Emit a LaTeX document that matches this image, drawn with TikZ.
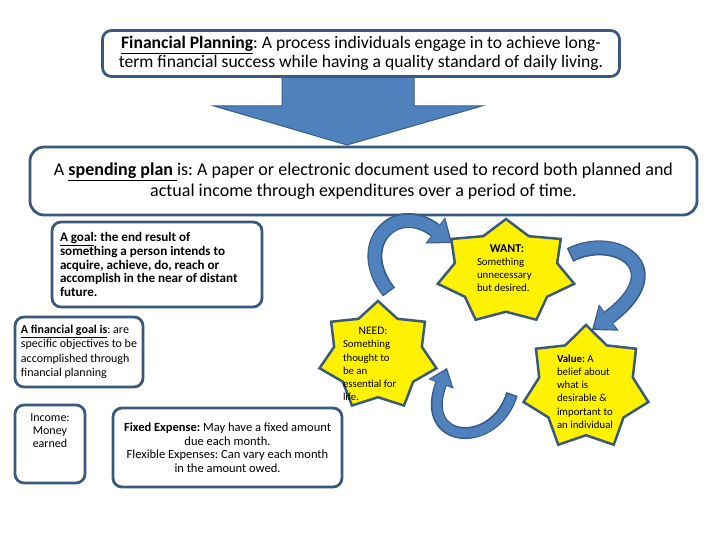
\documentclass[tikz,border=0pt]{standalone}
\usepackage{fontspec}
\setmainfont{Carlito}
\usetikzlibrary{arrows.meta}

\definecolor{rimblue}{RGB}{59,89,125}
\definecolor{arrowblue}{RGB}{79,129,189}
\definecolor{arrowrim}{RGB}{56,93,138}

\tikzset{
  defbox/.style={draw=rimblue, line width=2.8pt, rounded corners=9pt, fill=white, inner sep=0pt},
  starfill/.style={draw=rimblue, line width=2.5pt, fill=yellow, line join=miter},
  startext/.style={text width=60pt, align=flush left, inner sep=0pt, font=\fontsize{10.8}{13.2}\selectfont},
  bigarrow/.style={fill=arrowblue, draw=arrowrim, line width=1pt},
  curverim/.style={draw=arrowrim, line width=15pt, -{Triangle[length=21pt,width=33pt,line width=0pt]}},
  curvefill/.style={draw=arrowblue, line width=12pt, shorten <=1.5pt, shorten >=2.5pt, -{Triangle[length=17.5pt,width=28.5pt,line width=0pt]}},
  thinrim/.style={draw=arrowrim, line width=12pt, -{Triangle[length=17pt,width=27pt,line width=0pt]}},
  thinfill/.style={draw=arrowblue, line width=9pt, shorten <=1.5pt, shorten >=2.5pt, -{Triangle[length=13.5pt,width=22.5pt,line width=0pt]}}
}

% seven pointed star: centre x, centre y, x radius, y radius
\newcommand{\sevenstar}[4]{%
  \draw[starfill] ({#1},{#2-#4})
    \foreach \k in {1,...,13}{ -- ({#1+#3*(mod(\k,2)==0?1:0.75)*sin(\k*180/7)},{#2-#4*(mod(\k,2)==0?1:0.75)*cos(\k*180/7)}) }
    -- cycle;}

\begin{document}
\frenchspacing
\begin{tikzpicture}[x=1pt,y=-1pt]
\useasboundingbox (0,0) rectangle (720,540);

% arrow from the first definition down to the second
\draw[bigarrow] (282,76) -- (414,76) -- (414,106) -- (482,106) -- (347,145) -- (214,106) -- (282,106) -- cycle;

\node[defbox, minimum width=517pt, minimum height=46pt, align=center, font=\fontsize{17.6}{19.5}\selectfont] (planning) at (361,53.5)
  {\underline{\textbf{Financial Planning}}: A process individuals engage in to achieve long-\\term financial success while having a quality standard of daily living.};

\node[defbox, rounded corners=14pt, minimum width=667pt, minimum height=68pt, align=center, font=\fontsize{18}{21}\selectfont] (spending) at (363.5,181)
  {A \underline{\textbf{spending plan }}is: A paper or electronic document used to record both planned and\\actual income through expenditures over a period of time.};

\node[defbox, minimum width=210pt, minimum height=85pt, text width=194pt, align=flush left, font=\bfseries\fontsize{13.1}{13.6}\selectfont] (goal) at (157,264.5)
  {\underline{A goal}: the end result of\\something a person intends to\\acquire, achieve, do, reach or\\accomplish in the near of distant\\future.};

\node[defbox, minimum width=128pt, minimum height=70pt, align=left, font=\fontsize{12}{14.5}\selectfont] (fingoal) at (79,352)
  {\underline{\textbf{A financial goal is}}: are\\specific objectives to be\\accomplished through\\financial planning};

\node[defbox, minimum width=70pt, minimum height=78pt] (income) at (50,444) {};
\node[align=center, font=\fontsize{12}{13}\selectfont] (incometext) at (50,431) {Income:\\Money\\earned};

\node[defbox, minimum width=229pt, minimum height=79pt, align=center, font=\fontsize{12.5}{13.5}\selectfont] (expenses) at (227.5,447.5)
  {\textbf{Fixed Expense:} May have a fixed amount\\due each month.\\Flexible Expenses: Can vary each month\\in the amount owed.};

% need -> want -> value -> need
\coordinate (needout) at (389,292);
\coordinate (wantin) at (452,243);
\coordinate (wantout) at (570,255);
\coordinate (valuein) at (592,330);
\coordinate (valueout) at (512,394);
\coordinate (needin) at (447,368);

\draw[curverim] (needout) .. controls (352,245) and (395,200) .. (wantin);
\draw[curvefill] (needout) .. controls (352,245) and (395,200) .. (wantin);
\draw[curverim] (wantout) .. controls (615,232) and (675,268) .. (valuein);
\draw[curvefill] (wantout) .. controls (615,232) and (675,268) .. (valuein);
\draw[thinrim] (valueout) .. controls (495,450) and (418,445) .. (needin);
\draw[thinfill] (valueout) .. controls (495,450) and (418,445) .. (needin);

\sevenstar{506}{272}{70}{53}
\sevenstar{378}{356}{60}{55}
\sevenstar{586}{388}{64}{63}

\node[startext] (want) at (507,268)
  {{\centering\fontsize{12}{14}\selectfont\textbf{WANT:}\par}Something\\unnecessary\\but desired.};
\node[startext] (need) at (373,364)
  {{\centering\fontsize{11.5}{13.5}\selectfont NEED:\par}Something\\thought to\\be an\\essential for\\life.};
\node[startext] (value) at (587,391.5)
  {\textbf{Value:} A\\belief about\\what is\\desirable \&\\important to\\an individual};
\end{tikzpicture}
\end{document}
